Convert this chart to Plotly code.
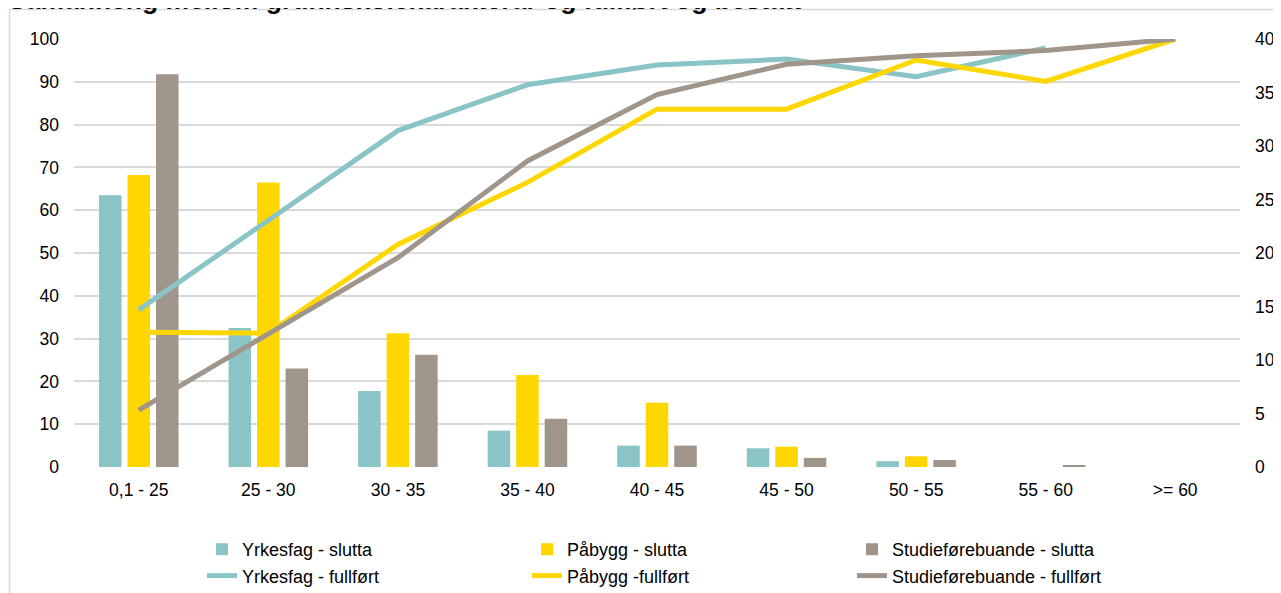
import plotly.graph_objects as go

categories = ["0,1 - 25", "25 - 30", "30 - 35", "35 - 40", "40 - 45",
              "45 - 50", "50 - 55", "55 - 60", ">= 60"]

# Slutta (right axis, 0-40)
yrkesfag_slutta = [25.4, 13.0, 7.1, 3.4, 2.0, 1.75, 0.55, 0, 0]
pabygg_slutta = [27.3, 26.6, 12.5, 8.6, 6.0, 1.9, 1.0, 0, 0]
studie_slutta = [36.7, 9.2, 10.5, 4.5, 2.0, 0.85, 0.65, 0.15, 0]

# Fullført (left axis, 0-100)
yrkesfag_fullfort = [36.7, 57.6, 78.6, 89.3, 93.9, 95.3, 91.2, 97.9, None]
pabygg_fullfort = [31.5, 31.3, 52.0, 66.5, 83.6, 83.6, 95.1, 90.1, 100]
studie_fullfort = [13.3, 31.0, 48.9, 71.5, 87.0, 94.1, 96.1, 97.3, 100]

left_ticks = [0, 10, 20, 30, 40, 50, 60, 70, 80, 90, 100]
right_ticks = [0, 5, 10, 15, 20, 25, 30, 35, 40]

TEAL = "#8BC4C7"
YELLOW = "#FFD700"
GREY = "#A0958B"
GRID = "#D9D9D9"
FONT = "Arial, Liberation Sans, sans-serif"

OFF = 8  # page body margin offset of the figure in the browser
W, H = 1281, 593
L, T = 74 - OFF, 39 - OFF
PW, PH = 1166, 428
R = W - L - PW
B = H - T - PH

fig = go.Figure()

for name, vals, col in [("Yrkesfag - slutta", yrkesfag_slutta, TEAL),
                        ("Påbygg - slutta", pabygg_slutta, YELLOW),
                        ("Studieførebuande - slutta", studie_slutta, GREY)]:
    fig.add_trace(go.Bar(x=categories, y=vals, name=name, marker_color=col,
                         marker_line_width=0, yaxis="y"))

for name, vals, col in [("Yrkesfag - fullført", yrkesfag_fullfort, TEAL),
                        ("Påbygg -fullført", pabygg_fullfort, YELLOW),
                        ("Studieførebuande - fullført", studie_fullfort, GREY)]:
    fig.add_trace(go.Scatter(x=categories, y=vals, name=name, mode="lines",
                             line=dict(color=col, width=5), yaxis="y2",
                             connectgaps=False))

def px_x(px):
    return (px - OFF - L) / PW

def px_y(py):
    return (H - B - (py - OFF)) / PH

fig.update_layout(
    width=W, height=H,
    margin=dict(l=L, r=R, t=T, b=B, autoexpand=False),
    paper_bgcolor="white", plot_bgcolor="white",
    font=dict(family=FONT, size=17, color="#000000"),
    barmode="group", bargap=0.34, bargroupgap=0.21,
    title=dict(text="<b>Samanheng mellom grunnskolekarakterar og fullført og bestått</b>",
               font=dict(family=FONT, size=26.5, color="#000000"),
               xref="container", x=0.0, xanchor="left",
               yref="container", y=0.998, yanchor="bottom"),
    xaxis=dict(type="category", showgrid=False, zeroline=False, showline=False,
               ticks="", tickfont=dict(size=17.5), ticklabelstandoff=10),
    yaxis=dict(side="right", range=[0, 40], tickvals=right_ticks,
               showgrid=False, zeroline=False,
               showline=False, ticks="", tickfont=dict(size=17.5),
               ticklabelstandoff=14),
    yaxis2=dict(side="left", overlaying="y", range=[0, 100], tickvals=left_ticks,
                showgrid=True, gridcolor=GRID, gridwidth=1.5, zeroline=False,
                showline=False, ticks="",
                tickfont=dict(size=17.5), ticklabelstandoff=14),
    legend=dict(orientation="h", x=px_x(202), xanchor="left", y=px_y(531),
                yanchor="top", font=dict(size=18, color="#000000"),
                entrywidth=280, entrywidthmode="pixels", traceorder="normal",
                tracegroupgap=0, bgcolor="rgba(0,0,0,0)"),
    shapes=[dict(type="rect", xref="paper", yref="paper",
                 x0=px_x(9.5), x1=px_x(W + 30), y0=px_y(H + 30), y1=px_y(9.5),
                 line=dict(color=GRID, width=1.5), fillcolor="rgba(0,0,0,0)",
                 layer="above")],
    showlegend=True,
)

fig.write_html("out.html")
